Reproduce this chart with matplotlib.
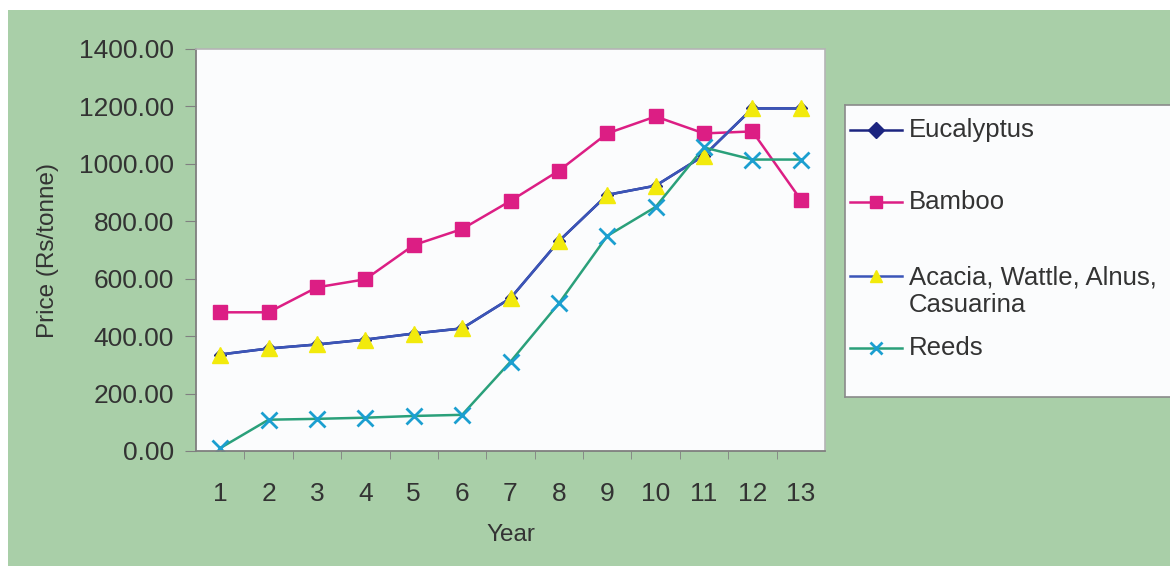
import matplotlib.pyplot as plt
from matplotlib.patches import Rectangle

# Data (Price in Rs/tonne by year)
years = list(range(1, 14))
eucalyptus = [336, 357, 371, 388, 409, 427, 532, 731, 892, 924, 1029, 1193, 1193]
bamboo = [483, 483, 570, 598, 717, 773, 871, 976, 1106, 1165, 1106, 1113, 875]
acacia = [336, 357, 371, 388, 409, 427, 532, 731, 892, 924, 1029, 1193, 1193]
reeds = [10, 109, 112, 116, 122, 126, 311, 514, 749, 850, 1057, 1015, 1015]

labels = ["Eucalyptus", "Bamboo", "Acacia, Wattle, Alnus,\nCasuarina", "Reeds"]

# styles: (line colour, marker, marker face, marker size)
styles = [
    ("#1c2580", "D", "#1c2580", 6),
    ("#dc1e84", "s", "#dc1e84", 10),
    ("#3b55b8", "^", "#f2ea0c", 12),
    ("#2aa07a", "x", "#1b9fd0", 12),
]
series = [eucalyptus, bamboo, acacia, reeds]

plt.rcParams['font.family'] = ['Liberation Sans', 'DejaVu Sans']

W, H = 1170, 566
fig = plt.figure(figsize=(W / 100, H / 100), dpi=100, facecolor="white")
# green page background (scanned), with thin white strip top and left
fig.patches.append(Rectangle((8 / W, 0), 1, 1 - 10 / H, transform=fig.transFigure,
                             facecolor="#a9cfa8", edgecolor="none", zorder=-10))

ax = fig.add_axes([196 / W, 1 - 451 / H, (825 - 196) / W, (451 - 49) / H])
ax.set_facecolor("#fbfcfd")

for vals, (lc, mk, mf, ms) in zip(series, styles):
    ax.plot(years, vals, color=lc, lw=1.8, marker=mk, markersize=ms,
            markerfacecolor=mf, markeredgecolor=mf, markeredgewidth=2 if mk == "x" else 1)

ax.set_xlim(0.5, 13.5)
ax.set_ylim(0, 1400)
ax.set_yticks(range(0, 1401, 200))
ax.set_yticklabels(["%.2f" % v for v in range(0, 1401, 200)])
ax.set_xticks(years)
ax.set_xticks([y + 0.5 for y in years[:-1]], minor=True)
ax.tick_params(axis="x", which="major", length=0, pad=22, labelsize=19, labelcolor="#333333")
ax.tick_params(axis="x", which="minor", length=6, color="#808080", direction="out")
ax.tick_params(axis="y", length=8, color="#808080", labelsize=19, labelcolor="#333333", pad=8)

for s in ["left", "bottom"]:
    ax.spines[s].set_color("#7f7f7f")
    ax.spines[s].set_linewidth(1.3)
for s in ["top", "right"]:
    ax.spines[s].set_color("#b5b5b5")
    ax.spines[s].set_linewidth(1.2)

ax.set_xlabel("Year", fontsize=17.5, color="#333333", labelpad=13)
ax.set_ylabel("Price (Rs/tonne)", fontsize=17.5, color="#333333", labelpad=14)

# legend box drawn by hand, in pixel-like coordinates
lg = fig.add_axes([845 / W, 1 - 397 / H, 340 / W, (397 - 105) / H])
lg.set_xlim(845, 1185)
lg.set_ylim(397, 105)
lg.set_facecolor("#fbfcfd")
lg.set_xticks([])
lg.set_yticks([])
for s in lg.spines.values():
    s.set_color("#8a8a8a")
    s.set_linewidth(1.2)

rows = [130, 202, 291, 348]
leg_ms = [8, 8, 9, 9]
for yy, lab, (lc, mk, mf, ms), lms in zip(rows, labels, styles, leg_ms):
    yh = yy - 15 if "\n" in lab else yy
    lg.plot([850, 902], [yh, yh], color=lc, lw=1.8)
    lg.plot([876], [yh], marker=mk, markersize=lms, color=mf,
            markeredgewidth=2 if mk == "x" else 1)
    lg.text(909, yy, lab, fontsize=18.5, color="#333333", va="center", ha="left",
            linespacing=1.2)

fig.savefig("out.png", dpi=100, facecolor=fig.get_facecolor())
